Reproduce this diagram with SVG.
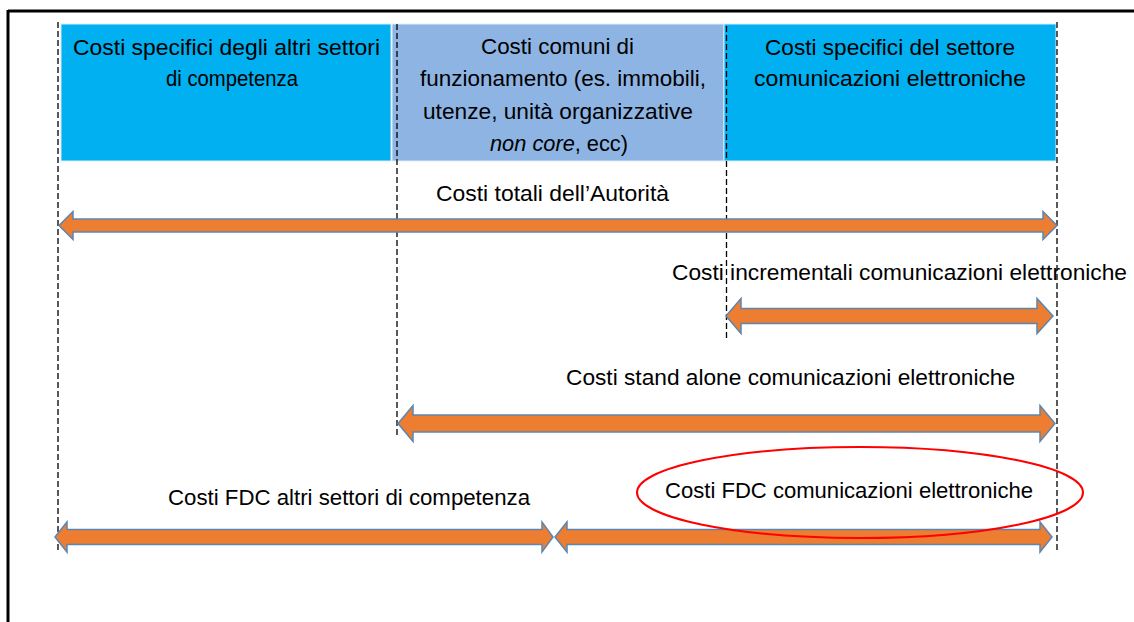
<svg xmlns="http://www.w3.org/2000/svg" width="1134" height="622" viewBox="0 0 1134 622">
<style>
.t{font-family:"Liberation Sans",Arial,sans-serif;font-size:22px;fill:#000}
.arr{fill:#ED7D31;stroke:#5B86B0;stroke-width:1.5;stroke-linejoin:miter}
.dash{stroke:#000;stroke-width:1.3;stroke-dasharray:6 3;fill:none}
.box{stroke:#DDEBF7;stroke-width:1}
</style>
<rect width="1134" height="622" fill="#fff"/>
<g id="frame">
<line x1="8" y1="11" x2="1134" y2="11" stroke="#000" stroke-width="3"/>
<line x1="8" y1="10" x2="8" y2="622" stroke="#000" stroke-width="3"/>
</g>
<g id="box-altri">
<rect class="box" x="61" y="24" width="330" height="137" fill="#00B0F0"/>
<text class="t" x="73" y="55" textLength="307" lengthAdjust="spacingAndGlyphs">Costi specifici degli altri settori</text>
<text class="t" x="166" y="86" textLength="132" lengthAdjust="spacingAndGlyphs">di competenza</text>
</g>
<g id="box-comuni">
<rect class="box" x="392" y="24" width="332" height="137" fill="#8EB4E3"/>
<text class="t" x="481" y="54" textLength="153" lengthAdjust="spacingAndGlyphs">Costi comuni di</text>
<text class="t" x="420" y="86" textLength="286" lengthAdjust="spacingAndGlyphs">funzionamento (es. immobili,</text>
<text class="t" x="423" y="119" textLength="270" lengthAdjust="spacingAndGlyphs">utenze, unità organizzative</text>
<text class="t" x="490" y="151" textLength="138" lengthAdjust="spacingAndGlyphs"><tspan font-style="italic">non core</tspan>, ecc)</text>
</g>
<g id="box-com">
<rect class="box" x="724" y="24" width="332" height="137" fill="#00B0F0"/>
<text class="t" x="765" y="55" textLength="250" lengthAdjust="spacingAndGlyphs">Costi specifici del settore</text>
<text class="t" x="754" y="86" textLength="272" lengthAdjust="spacingAndGlyphs">comunicazioni elettroniche</text>
</g>
<g id="guides">
<line class="dash" x1="58" y1="22" x2="58" y2="550"/>
<line class="dash" x1="397" y1="24" x2="397" y2="438"/>
<line class="dash" x1="726.5" y1="26" x2="726.5" y2="338"/>
<line class="dash" x1="1057" y1="22" x2="1057" y2="550"/>
</g>
<g id="connectors">
<polygon id="arr-totali" class="arr" points="59,225.5 73,211.5 73,219 1043,219 1043,211.5 1057,225.5 1043,239.5 1043,232 73,232 73,239.5"/>
<polygon id="arr-incr" class="arr" points="726,316 741,298.5 741,308.5 1037,308.5 1037,298.5 1053,316 1037,333.5 1037,323.5 741,323.5 741,333.5"/>
<polygon id="arr-stand" class="arr" points="398,423.5 413,405.5 413,415 1040,415 1040,405.5 1055,423.5 1040,441.5 1040,432 413,432 413,441.5"/>
<polygon id="arr-fdc-altri" class="arr" points="55,537 67,522 67,529.5 542,529.5 542,522 553,537 542,552 542,544.5 67,544.5 67,552"/>
<polygon id="arr-fdc-com" class="arr" points="555,537 567,522 567,529.5 1040,529.5 1040,522 1052,537 1040,552 1040,544.5 567,544.5 567,552"/>
</g>
<g id="labels">
<text class="t" x="436" y="201" textLength="233" lengthAdjust="spacingAndGlyphs">Costi totali dell’Autorità</text>
<text class="t" x="672" y="280" textLength="455" lengthAdjust="spacingAndGlyphs">Costi incrementali comunicazioni elettroniche</text>
<text class="t" x="566" y="385" textLength="449" lengthAdjust="spacingAndGlyphs">Costi stand alone comunicazioni elettroniche</text>
<text class="t" x="168" y="505" textLength="362" lengthAdjust="spacingAndGlyphs">Costi FDC altri settori di competenza</text>
</g>
<g id="highlight">
<ellipse cx="860" cy="492.5" rx="223" ry="45.5" fill="none" stroke="#FF0000" stroke-width="2"/>
<text class="t" x="665" y="498" textLength="368" lengthAdjust="spacingAndGlyphs">Costi FDC comunicazioni elettroniche</text>
</g>
</svg>
